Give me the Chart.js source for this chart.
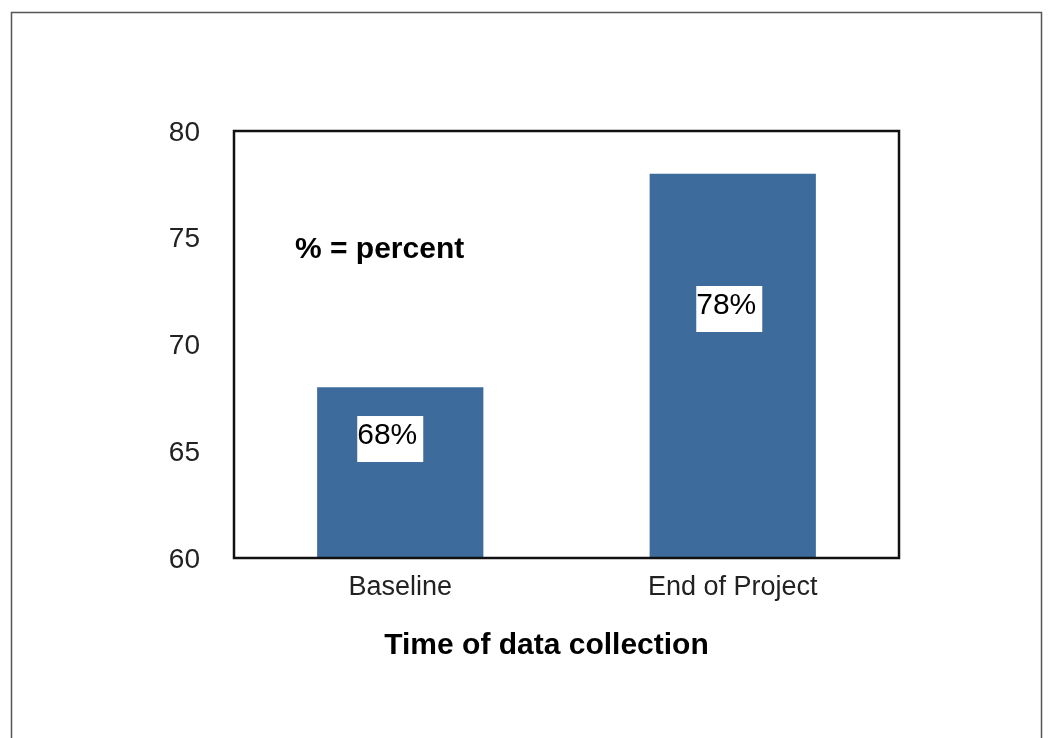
<!DOCTYPE html>
<html>
<head>
<meta charset="utf-8">
<script src="https://cdn.jsdelivr.net/npm/chart.js@4"></script>
<style>
  html, body { margin: 0; padding: 0; background: #fff; overflow: hidden; }
</style>
</head>
<body>
<canvas id="chart" width="1049" height="738"></canvas>
<script>
const categories = ['Baseline', 'End of Project'];
const percentages = [68, 78];
const yTicks = [60, 65, 70, 75, 80];
const note = '% = percent';
const xTitle = 'Time of data collection';

const FONT = '"Liberation Sans", Arial, Helvetica, sans-serif';

// frame, plot border, value boxes and the free texts
const decorations = {
  id: 'decorations',
  beforeDraw(chart) {
    let ctx = chart.ctx;
    ctx.save();
    ctx.fillStyle = '#fff';
    ctx.fillRect(0, 0, chart.width, chart.height);
    ctx.strokeStyle = '#555';
    ctx.lineWidth = 1.5;
    ctx.strokeRect(11.5, 12.5, 1030, 800);
    ctx.restore();
  },
  afterDatasetsDraw(chart) {
    let ctx = chart.ctx;
    let a = chart.chartArea;
    let y = chart.scales.y;
    ctx.save();

    ctx.strokeStyle = '#111';
    ctx.lineWidth = 2.5;
    ctx.strokeRect(a.left, a.top, a.right - a.left, a.bottom - a.top);

    // value labels in white boxes
    let boxes = [{ dx: -43, top: 66.65 }, { dx: -36.5, top: 72.74 }];
    let meta = chart.getDatasetMeta(0);
    ctx.font = '30px ' + FONT;
    ctx.textBaseline = 'alphabetic';
    ctx.textAlign = 'left';
    meta.data.forEach((bar, i) => {
      let bx = bar.x + boxes[i].dx;
      let by = y.getPixelForValue(boxes[i].top);
      ctx.fillStyle = '#fff';
      ctx.fillRect(bx, by, 66, 46);
      ctx.fillStyle = '#000';
      ctx.fillText(percentages[i] + '%', bx, by + 28);
    });

    ctx.font = 'bold 30px ' + FONT;
    ctx.fillStyle = '#000';
    ctx.textBaseline = 'middle';
    ctx.fillText(note, a.left + 61, 250);

    ctx.textAlign = 'center';
    ctx.fillText(xTitle, (a.left + a.right) / 2 - 20, 646);
    ctx.restore();
  }
};

new Chart(document.getElementById('chart'), {
  type: 'bar',
  data: {
    labels: categories,
    datasets: [{
      data: percentages,
      backgroundColor: '#3d6b9c',
      barPercentage: 0.5,
      categoryPercentage: 1.0
    }]
  },
  options: {
    responsive: false,
    animation: false,
    layout: { padding: { left: 0, top: 131, right: 150, bottom: 0 } },
    plugins: {
      legend: { display: false },
      tooltip: { enabled: false }
    },
    scales: {
      x: {
        grid: { display: false, drawTicks: false },
        border: { display: false },
        ticks: { color: '#222', font: { family: FONT, size: 27 }, padding: 13 },
        afterFit(scale) { scale.height = 180; }
      },
      y: {
        min: 60,
        max: 80,
        grid: { display: false, drawTicks: false },
        border: { display: false },
        ticks: { color: '#222', font: { family: FONT, size: 28 }, padding: 34, labelOffset: 2 },
        afterBuildTicks(scale) { scale.ticks = yTicks.map(v => ({ value: v })); },
        afterFit(scale) { scale.width = 234; }
      }
    }
  },
  plugins: [decorations]
});
</script>
</body>
</html>
